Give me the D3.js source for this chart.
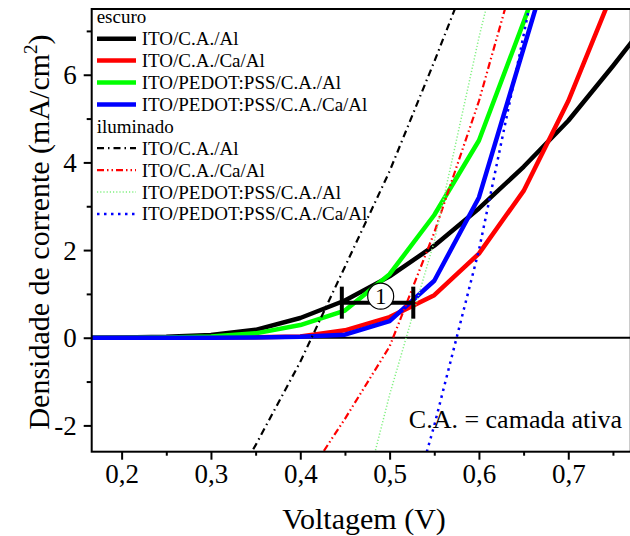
<!DOCTYPE html>
<html><head><meta charset="utf-8">
<script src="https://cdn.jsdelivr.net/npm/d3@7"></script>
<style>body{margin:0;background:#fff}svg{display:block}svg text{font-family:"Liberation Serif",serif !important;fill:#000}</style>
</head><body><svg id="c" width="630" height="536" font-family="Liberation Serif"></svg>
<script>
// ---- data ----
const voltages = [0.15,0.2,0.25,0.3,0.35,0.4,0.45,0.5,0.55,0.6,0.65,0.7,0.75,0.8];
const darkITO_CA_Al        = [0,0.005,0.02,0.06,0.18,0.45,0.85,1.4,2.1,2.95,3.9,4.95,6.2,7.5];
const darkITO_CA_Ca_Al     = [0,0,0,0.005,0.01,0.03,0.17,0.47,0.97,1.92,3.35,5.4,7.9,10.4];
const darkPEDOT_CA_Al      = [0,0,0.005,0.03,0.1,0.29,0.62,1.45,2.8,4.5,7.2,10,13,16];
const darkPEDOT_CA_Ca_Al   = [0,0,0,0.002,0.005,0.02,0.07,0.38,1.3,3.2,6.6,10,13,16];
const lightITO_CA_Al       = [-6,-6,-6,-4.2,-2.45,-0.55,1.62,3.8,6.3,8.9,11.6,14,16,18];
const lightITO_CA_Ca_Al    = [-8,-8,-8,-8,-5,-3.4,-1.85,-0.2,2.4,5.4,9.0,12,15,18];
const lightPEDOT_CA_Al     = [-9,-9,-9,-9,-9,-9,-5.3,-1.3,2.2,6.85,11,15,18,20];
const lightPEDOT_CA_Ca_Al  = [-9,-9,-9,-9,-9,-9,-9,-5.6,-2.0,2.0,6.9,12,16,20];
const xTicks = [0.2,0.3,0.4,0.5,0.6,0.7];
const xMinor = [0.25,0.35,0.45,0.55,0.65,0.75];
const yTicks = [-2,0,2,4,6];
const yMinor = [-1,1,3,5,7];
const legendDark = ["ITO/C.A./Al","ITO/C.A./Ca/Al","ITO/PEDOT:PSS/C.A./Al","ITO/PEDOT:PSS/C.A./Ca/Al"];
const legendLight = ["ITO/C.A./Al","ITO/C.A./Ca/Al","ITO/PEDOT:PSS/C.A./Al","ITO/PEDOT:PSS/C.A./Ca/Al"];

const FONT = "Liberation Serif";
const svg = d3.select("#c");
const L=91.7, T=9, R=630.8, B=451.7;
const x = d3.scaleLinear().domain([0.1665,0.77]).range([L,R]);
const y = d3.scaleLinear().domain([-2.6,7.5]).range([B,T]);

svg.append("defs").append("clipPath").attr("id","clip").append("rect")
  .attr("x",L).attr("y",T).attr("width",R-L).attr("height",B-T);

// axes
const fmt = d => d3.format(".1f")(d).replace(".",",");
const xAxis = svg.append("g").attr("transform",`translate(0,${B})`)
  .call(d3.axisBottom(x).tickValues(xTicks).tickSize(8).tickFormat(fmt));
const xAxisM = svg.append("g").attr("transform",`translate(0,${B})`)
  .call(d3.axisBottom(x).tickValues(xMinor).tickSize(4).tickFormat(""));
const yAxis = svg.append("g").attr("transform",`translate(${L},0)`)
  .call(d3.axisLeft(y).tickValues(yTicks).tickSize(8).tickFormat(d=>String(d)));
const yAxisM = svg.append("g").attr("transform",`translate(${L},0)`)
  .call(d3.axisLeft(y).tickValues(yMinor).tickSize(5).tickFormat(""));
[xAxis,xAxisM,yAxis,yAxisM].forEach(g=>{
  g.attr("font-family",FONT);
  g.select(".domain").remove();
  g.selectAll("line").attr("stroke","#000").attr("stroke-width",2);
});
xAxis.selectAll("text").attr("font-size",27).attr("y",12).attr("dy","0.71em");
yAxis.selectAll("text").attr("font-size",27).attr("x",-15).attr("dy","0.34em");

// zero line
svg.append("line").attr("x1",L).attr("x2",R).attr("y1",y(0)).attr("y2",y(0))
  .attr("stroke","#000").attr("stroke-width",2);

const plot = svg.append("g").attr("clip-path","url(#clip)");
const line = d3.line().x(d=>x(d[0])).y(d=>y(d[1]));
const series = [
  {v:darkITO_CA_Al, c:"#000", w:4.5, d:null},
  {v:darkITO_CA_Ca_Al, c:"#ff0000", w:4.5, d:null},
  {v:darkPEDOT_CA_Al, c:"#00ff00", w:4.5, d:null},
  {v:darkPEDOT_CA_Ca_Al, c:"#0000ff", w:4.5, d:null},
  {v:lightITO_CA_Al, c:"#000", w:2.2, d:"7,4,1.5,4"},
  {v:lightITO_CA_Ca_Al, c:"#ff0000", w:2.2, d:"7,3,1.5,3,1.5,3"},
  {v:lightPEDOT_CA_Al, c:"#80f080", w:1.5, d:"1.2,2"},
  {v:lightPEDOT_CA_Ca_Al, c:"#0000ff", w:2.5, d:"2.5,4.5"}
];
series.forEach(s=>{
  plot.append("path").datum(voltages.map((v,i)=>[v,s.v[i]]))
    .attr("d",line).attr("fill","none").attr("stroke",s.c)
    .attr("stroke-width",s.w).attr("stroke-linejoin","round")
    .attr("stroke-dasharray",s.d);
});

// frame
svg.append("rect").attr("x",L).attr("y",T).attr("width",R-L).attr("height",B-T)
  .attr("fill","none").attr("stroke","#000").attr("stroke-width",2);

// legend
const lg = svg.append("g").attr("font-family",FONT);
const rowY = i => 23.3 + i*21.9;
lg.append("text").attr("x",96.7).attr("y",rowY(0)).attr("font-size",19).text("escuro");
legendDark.forEach((t,i)=>{
  const yy=rowY(i+1);
  lg.append("line").attr("x1",97).attr("x2",136).attr("y1",yy-6.5).attr("y2",yy-6.5)
    .attr("stroke",series[i].c).attr("stroke-width",4.5);
  lg.append("text").attr("x",141.7).attr("y",yy).attr("font-size",19).text(t);
});
lg.append("text").attr("x",96.7).attr("y",rowY(5)).attr("font-size",19).text("iluminado");
legendLight.forEach((t,i)=>{
  const yy=rowY(i+6); const s=series[i+4];
  lg.append("line").attr("x1",97).attr("x2",136).attr("y1",yy-6.5).attr("y2",yy-6.5)
    .attr("stroke",s.c).attr("stroke-width",s.w).attr("stroke-dasharray",s.d);
  lg.append("text").attr("x",141.7).attr("y",yy).attr("font-size",19).text(t);
});

// bracket annotation
const bx1 = x(0.4465), bx2 = x(0.5265), by = y(0.8);
svg.append("line").attr("x1",bx1).attr("x2",bx2).attr("y1",by).attr("y2",by)
  .attr("stroke","#000").attr("stroke-width",4);
[bx1,bx2].forEach(bx=>svg.append("line").attr("x1",bx).attr("x2",bx)
  .attr("y1",by-16).attr("y2",by+16).attr("stroke","#000").attr("stroke-width",4));
svg.append("circle").attr("cx",x(0.49)).attr("cy",by-6.5).attr("r",13)
  .attr("fill","#fff").attr("stroke","#000").attr("stroke-width",1.2);
svg.append("text").attr("x",x(0.49)).attr("y",by-6.5).attr("dy","0.35em")
  .attr("text-anchor","middle").attr("font-family",FONT).attr("font-size",23).text("1");

svg.append("text").attr("x",622).attr("y",428.3).attr("text-anchor","end")
  .attr("font-family",FONT).attr("font-size",26).text("C.A. = camada ativa");

// axis titles
svg.append("text").attr("x",364).attr("y",529.3).attr("text-anchor","middle")
  .attr("font-family",FONT).attr("font-size",30).text("Voltagem (V)");
const yt = svg.append("text").attr("transform","translate(49,232) rotate(-90)")
  .attr("text-anchor","middle").attr("font-family",FONT).attr("font-size",30);
yt.append("tspan").text("Densidade de corrente (mA/cm");
yt.append("tspan").attr("dy",-12).attr("font-size",19).text("2");
yt.append("tspan").attr("dy",12).text(")");
</script></body></html>
